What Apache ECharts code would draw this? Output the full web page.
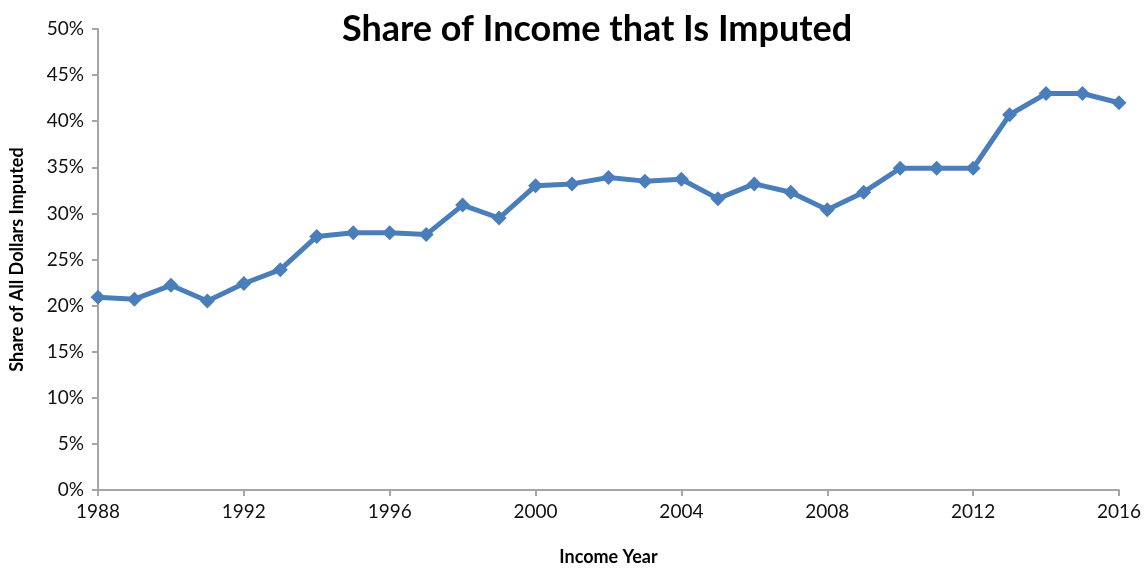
<!DOCTYPE html>
<html>
<head>
<meta charset="utf-8">
<title>Share of Income that Is Imputed</title>
<script src="https://cdn.jsdelivr.net/npm/echarts@6/dist/echarts.min.js"></script>
<style>
  html, body { margin: 0; padding: 0; background: #fff; }
  #chart { width: 1144px; height: 571px; }
</style>
</head>
<body>
<div id="chart"></div>
<script>
// data
const years = [1988, 1989, 1990, 1991, 1992, 1993, 1994, 1995, 1996, 1997,
  1998, 1999, 2000, 2001, 2002, 2003, 2004, 2005, 2006, 2007,
  2008, 2009, 2010, 2011, 2012, 2013, 2014, 2015, 2016];
const sharePct = [20.9, 20.7, 22.2, 20.5, 22.4, 23.9, 27.5, 27.9, 27.9, 27.7,
  30.9, 29.5, 33.0, 33.2, 33.9, 33.5, 33.7, 31.6, 33.2, 32.3,
  30.4, 32.3, 34.9, 34.9, 34.9, 40.7, 43.0, 43.0, 42.0];

const font = 'Lato, "Open Sans", sans-serif';
const axisGray = '#a6a6a6';

const myChart = echarts.init(document.getElementById('chart'));

const option = {
  backgroundColor: '#fff',
  title: {
    text: 'Share of Income that Is Imputed',
    left: 592,
    top: 6,
    textAlign: 'center',
    textStyle: { fontFamily: font, fontSize: 36, fontWeight: 'bold', color: '#000' }
  },
  grid: { left: 98, right: 21, top: 29, bottom: 71, containLabel: false },
  xAxis: {
    type: 'value',
    min: 1988,
    max: 2016,
    interval: 4,
    name: 'Income Year',
    nameLocation: 'middle',
    nameGap: 58,
    nameTextStyle: { fontFamily: font, fontSize: 18, fontWeight: 'bold', color: '#000' },
    axisLine: { show: true, lineStyle: { color: axisGray, width: 2 } },
    axisTick: { show: true, length: 6, lineStyle: { color: axisGray, width: 2 } },
    axisLabel: { fontFamily: font, fontSize: 19, color: '#111', margin: 12, formatter: v => String(v) },
    splitLine: { show: false }
  },
  yAxis: {
    type: 'value',
    min: 0,
    max: 50,
    interval: 5,
    name: 'Share of All Dollars Imputed',
    nameLocation: 'middle',
    nameGap: 72,
    nameRotate: 90,
    nameTextStyle: { fontFamily: font, fontSize: 18, fontWeight: 'bold', color: '#000' },
    axisLine: { show: true, lineStyle: { color: axisGray, width: 2 } },
    axisTick: { show: true, length: 6, lineStyle: { color: axisGray, width: 2 } },
    axisLabel: { fontFamily: font, fontSize: 19, color: '#111', margin: 14, formatter: '{value}%' },
    splitLine: { show: false }
  },
  series: [{
    type: 'line',
    data: years.map((y, i) => [y, sharePct[i]]),
    symbol: 'diamond',
    symbolSize: 15,
    showAllSymbol: true,
    lineStyle: { color: '#4a7ebb', width: 5 },
    itemStyle: { color: '#4a7ebb' },
    animation: false
  }]
};

myChart.setOption(option);
</script>
</body>
</html>
